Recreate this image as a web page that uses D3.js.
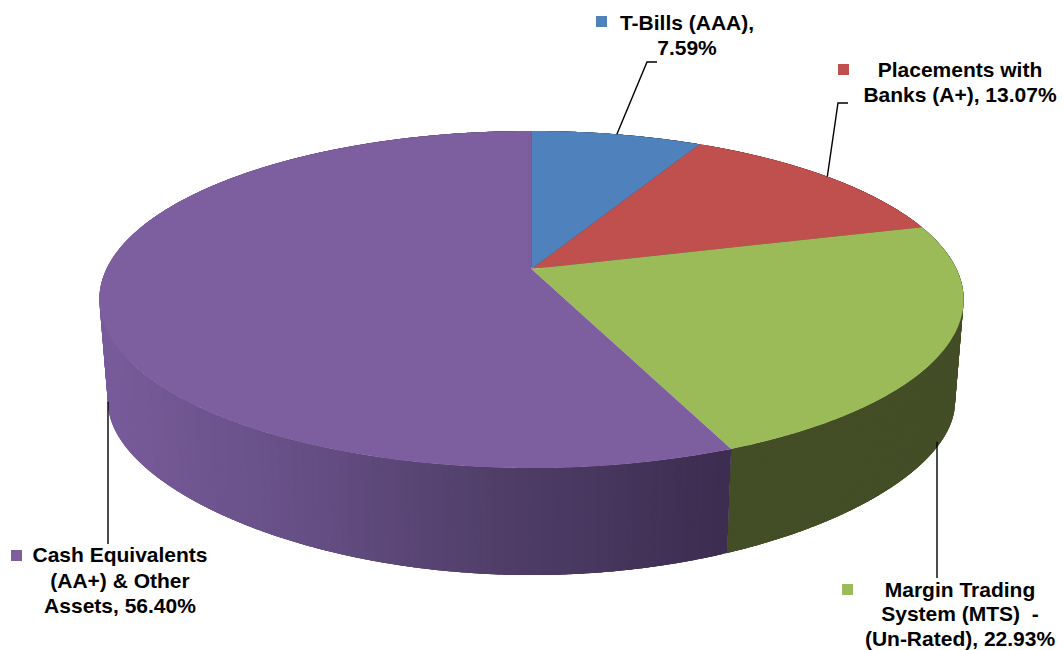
<!DOCTYPE html>
<html>
<head>
<meta charset="utf-8">
<style>
  html, body { margin: 0; padding: 0; background: #fff; }
  svg { display: block; }
</style>
<script src="https://d3js.org/d3.v7.min.js"></script>
</head>
<body>
<div id="container"></div>
<script>
const width = 1064;
const height = 650;

// data
const categories = ['T-Bills (AAA)', 'Placements with Banks (A+)', 'Margin Trading System (MTS) - (Un-Rated)', 'Cash Equivalents (AA+) & Other Assets'];
const values = [7.59, 13.07, 22.93, 56.40];
const labelLines = [
  ['T-Bills (AAA),', '7.59%'],
  ['Placements with', 'Banks (A+), 13.07%'],
  ['Margin Trading', 'System (MTS)  -', '(Un-Rated), 22.93%'],
  ['Cash Equivalents', '(AA+) & Other', 'Assets, 56.40%']
];

// styles and layout
const topColors = ['#4f81bd', '#c0504d', '#9bbb59', '#7d5fa0'];
const wallStops = [108, 300, 500, 725];
const wallColors = [
  ['#2f4d72', '#2f4d72', '#2f4d72', '#2f4d72'],
  ['#73302e', '#73302e', '#73302e', '#73302e'],
  ['#47532b', '#47532b', '#47532b', '#434e27'],
  ['#775b9a', '#664f85', '#503e69', '#3d2d50']
];
const labelPos = [
  { x: 687, y: 30, gap: 25, key: [596, 16] },
  { x: 960, y: 77, gap: 25, key: [838, 64] },
  { x: 960, y: 597, gap: 24.3, key: [842, 584] },
  { x: 120, y: 562, gap: 25.5, key: [11, 550] }
];
// top rim leaders start at the slice middle, bottom rim ones drop straight from it
const leaders = [
  { rim: 0, via: [[647, 62], [657, 62]] },
  { rim: 0, via: [[838, 103], [848, 103]] },
  { rim: 1, via: [[937, 578]] },
  { rim: 1, via: [[108, 544]] }
];

const cx = 531.5, cy = 269;  // apex of the slices
const ax = 425, ay = 163;    // ellipse half axes before perspective
const k = 0.181;             // perspective strength, top rim
const bottom = { depth: 106, ay: 140, k: 0.3, sx: 0.98 };

// angle on the pie to picture coordinates, rim 0 = top, rim 1 = bottom
const project = (a, rim) => {
  const d = 1 + k * Math.cos(a);
  if (!rim) return [cx + ax * Math.sin(a) / d, cy - ay * Math.cos(a) / d];
  return [
    cx + bottom.sx * ax * Math.sin(a) / d,
    cy + bottom.depth - bottom.ay * Math.cos(a) / (1 + bottom.k * Math.cos(a))
  ];
};

const pie = d3.pie().sort(null).value(d => d);
const slices = pie(values);

const svg = d3.select('#container').append('svg')
  .attr('width', width)
  .attr('height', height)
  .attr('font-family', '"Liberation Sans", Arial, sans-serif');

// walls, cut in thin strips so the shade can follow x
const strips = [];
slices.forEach((s, i) => {
  const n = Math.ceil((s.endAngle - s.startAngle) / 0.012);
  const shade = d3.scaleLinear()
    .domain(wallStops)
    .range(wallColors[i])
    .clamp(true);
  d3.range(n).forEach(j => {
    const a0 = s.startAngle + (s.endAngle - s.startAngle) * j / n;
    // each strip runs under the next one so no seams show
    const a1 = Math.min(s.endAngle, a0 + 0.04);
    strips.push({ a0, a1, color: shade(project(a0, 0)[0]) });
  });
});

const line = d3.line();

svg.append('g').selectAll('path')
  .data(strips)
  .join('path')
  .attr('d', d => {
    const aa = d3.range(0, 5).map(t => d.a0 + (d.a1 - d.a0) * t / 4);
    return line([...aa.map(a => project(a, 0)), ...aa.reverse().map(a => project(a, 1))]) + 'Z';
  })
  .attr('fill', d => d.color);

// top faces
const facePath = s => {
  const n = Math.ceil((s.endAngle - s.startAngle) / 0.01);
  const pts = d3.range(n + 1).map(j => project(s.startAngle + (s.endAngle - s.startAngle) * j / n, 0));
  return line([[cx, cy], ...pts]) + 'Z';
};

svg.append('g').selectAll('path')
  .data(slices)
  .join('path')
  .attr('d', facePath)
  .attr('fill', (d, i) => topColors[i]);

// leaders
svg.append('g').selectAll('path')
  .data(slices)
  .join('path')
  .attr('d', (s, i) => {
    const p = project((s.startAngle + s.endAngle) / 2, leaders[i].rim);
    const start = leaders[i].rim ? [leaders[i].via[0][0], p[1] - 3] : p;
    return line([start, ...leaders[i].via]);
  })
  .attr('fill', 'none')
  .attr('stroke', '#000')
  .attr('stroke-width', 1.4);

// labels
const labels = svg.append('g').selectAll('g')
  .data(labelLines)
  .join('g');

labels.append('rect')
  .attr('x', (d, i) => labelPos[i].key[0])
  .attr('y', (d, i) => labelPos[i].key[1])
  .attr('width', 11)
  .attr('height', 11)
  .attr('fill', (d, i) => topColors[i]);

labels.append('text')
  .attr('text-anchor', 'middle')
  .attr('font-size', 21)
  .attr('font-weight', 'bold')
  .attr('fill', '#000')
  .attr('xml:space', 'preserve')
  .each(function(d, i) {
    d3.select(this).selectAll('tspan')
      .data(d)
      .join('tspan')
      .attr('x', labelPos[i].x)
      .attr('y', (t, j) => labelPos[i].y + j * labelPos[i].gap)
      .text(t => t);
  });
</script>
</body>
</html>
